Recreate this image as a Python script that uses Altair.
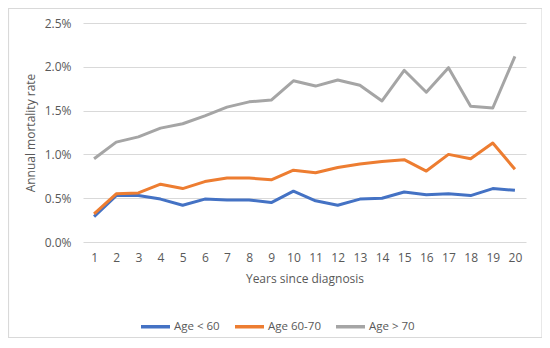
import altair as alt
import pandas as pd

years = list(range(1, 21))
series_names = ["Age < 60", "Age 60-70", "Age > 70"]
age_lt_60 = [0.29, 0.53, 0.53, 0.49, 0.42, 0.49, 0.48, 0.48, 0.45, 0.58,
             0.47, 0.42, 0.49, 0.50, 0.57, 0.54, 0.55, 0.53, 0.61, 0.59]
age_60_70 = [0.32, 0.55, 0.56, 0.66, 0.61, 0.69, 0.73, 0.73, 0.71, 0.82,
             0.79, 0.85, 0.89, 0.92, 0.94, 0.81, 1.00, 0.95, 1.13, 0.83]
age_gt_70 = [0.95, 1.14, 1.20, 1.30, 1.35, 1.44, 1.54, 1.60, 1.62, 1.84,
             1.78, 1.85, 1.79, 1.61, 1.96, 1.71, 1.99, 1.55, 1.53, 2.12]
y_ticks = [0, 0.005, 0.01, 0.015, 0.02, 0.025]
colors = ["#4472C4", "#ED7D31", "#A5A5A5"]

rows = []
for name, vals in zip(series_names, [age_lt_60, age_60_70, age_gt_70]):
    for yr, v in zip(years, vals):
        rows.append({"year": yr, "series": name, "value": v / 100.0})
df = pd.DataFrame(rows)

FONT = "Open Sans"
TXT = "#595959"
GRID = "#D9D9D9"

lines = alt.Chart(df).mark_line(strokeWidth=3, strokeJoin="round").encode(
    x=alt.X("year:O",
            axis=alt.Axis(title="Years since diagnosis", labelAngle=0, ticks=False,
                          domain=False, grid=False, labelPadding=10, titlePadding=10)),
    y=alt.Y("value:Q",
            scale=alt.Scale(domain=[0, 0.025]),
            axis=alt.Axis(title="Annual mortality rate", format=".1%", values=y_ticks,
                          ticks=False, domain=False, gridColor=GRID, labelPadding=12,
                          titlePadding=7)),
    color=alt.Color("series:N",
                    scale=alt.Scale(domain=series_names, range=colors),
                    legend=alt.Legend(title=None, orient="none", direction="horizontal",
                                      legendX=56, legendY=287, symbolType="stroke",
                                      symbolSize=841, symbolStrokeWidth=3.5,
                                      labelOffset=2, columnPadding=8,
                                      labelFontSize=11.5, labelColor=TXT, labelFont=FONT)),
    order=alt.Order("year:O"),
)

frame = alt.Chart(alt.Data(values=[{}])).mark_rect(
    fillOpacity=0, stroke=GRID, strokeWidth=1.2
).encode(
    x=alt.value(-74.5), x2=alt.value(459), y=alt.value(-14.5), y2=alt.value(314.5)
)

chart = alt.layer(frame, lines).properties(
    width=443, height=219,
    autosize=alt.AutoSizeParams(type="none"),
    padding={"left": 75, "top": 15, "right": 16, "bottom": 98},
).configure_view(stroke=None).configure_axis(
    labelFont=FONT, titleFont=FONT, labelFontSize=12, titleFontSize=12,
    labelColor=TXT, titleColor=TXT, titleFontWeight="normal",
)

chart.save("out.html", embed_options={"renderer": "svg", "actions": False})
